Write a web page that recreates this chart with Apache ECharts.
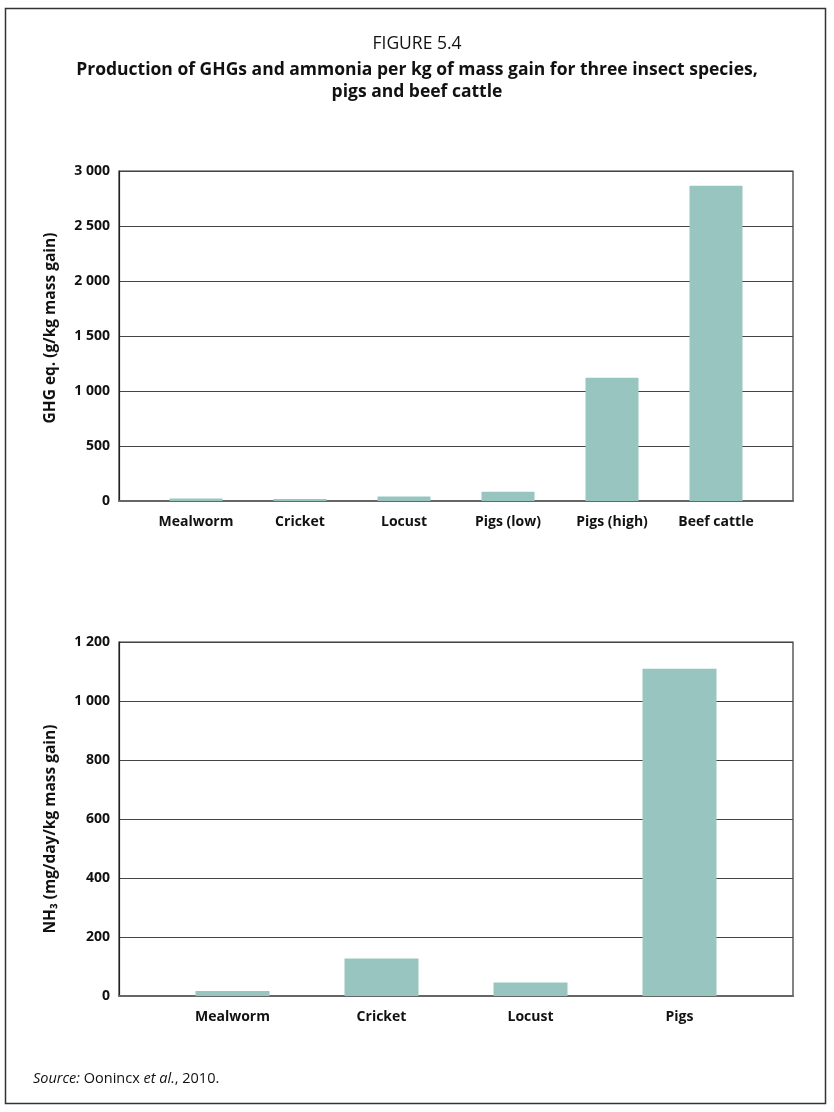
<!DOCTYPE html>
<html>
<head>
<meta charset="utf-8">
<script src="https://cdn.jsdelivr.net/npm/echarts@6.0.0/dist/echarts.min.js"></script>
<style>
  html, body { margin: 0; padding: 0; background: #fff; }
  #chart { width: 834px; height: 1112px; }
</style>
</head>
<body>
<div id="chart"></div>
<script>
// data
const ghgCategories = ["Mealworm", "Cricket", "Locust", "Pigs (low)", "Pigs (high)", "Beef cattle"];
const ghgValues = [22, 18, 40, 85, 1120, 2865];
const nh3Categories = ["Mealworm", "Cricket", "Locust", "Pigs"];
const nh3Values = [17, 127, 46, 1109];

const barColor = "#99c5c0";
const font = "'Open Sans', 'Noto Sans', sans-serif";
const ink = "#111";

// thousands with a space: 3 000
function spaced(v) {
  return String(v).replace(/\B(?=(\d{3})+(?!\d))/g, " ");
}

const chart = echarts.init(document.getElementById("chart"), null, { renderer: "canvas" });

// the framed plot: value axis with labels, split lines and the bottom line
function frameY(gridIndex, max, interval, name, namePad) {
  return {
    type: "value",
    gridIndex: gridIndex,
    min: 0,
    max: max,
    interval: interval,
    name: name,
    nameLocation: "middle",
    nameGap: 60,
    nameTextStyle: {
      fontFamily: font, fontWeight: "bold", fontSize: 15.5, color: ink,
      padding: namePad
    },
    axisLine: { show: true, lineStyle: { color: "#222", width: 1.2 } },
    axisTick: { show: false },
    axisLabel: {
      formatter: spaced,
      fontFamily: font, fontWeight: "bold", fontSize: 14, color: ink, margin: 9
    },
    splitLine: { show: true, lineStyle: { color: "#444", width: 1.2 } }
  };
}
function frameX(gridIndex) {
  return {
    type: "category",
    gridIndex: gridIndex,
    data: [""],
    axisLine: { show: true, lineStyle: { color: "#666", width: 2 } },
    axisTick: { show: false },
    axisLabel: { show: false }
  };
}
// the bar layer: narrower, axes hidden except category labels
function barX(gridIndex, data) {
  return {
    type: "category",
    gridIndex: gridIndex,
    data: data,
    axisLine: { show: false },
    axisTick: { show: false },
    axisLabel: { fontFamily: font, fontWeight: "bold", fontSize: 14, color: ink, margin: 14 }
  };
}
function barY(gridIndex, max) {
  return {
    type: "value",
    gridIndex: gridIndex,
    min: 0,
    max: max,
    show: false,
    splitLine: { show: false }
  };
}

const option = {
  backgroundColor: "#fff",
  animation: false,
  grid: [
    { left: 119, right: 41, top: 171, height: 330, show: true, borderColor: "#333", borderWidth: 1.2 },
    { left: 144, width: 624, top: 171, height: 330 },
    { left: 119, right: 41, top: 642, height: 354, show: true, borderColor: "#333", borderWidth: 1.2 },
    { left: 158, width: 596, top: 642, height: 354 }
  ],
  xAxis: [frameX(0), barX(1, ghgCategories), frameX(2), barX(3, nh3Categories)],
  yAxis: [
    frameY(0, 3000, 500, "GHG eq. (g/kg mass gain)", [0, 0, 0, 16]),
    barY(1, 3000),
    frameY(2, 1200, 200, "NH\u2083 (mg/day/kg mass gain)", [0, 20, 0, 0]),
    barY(3, 1200)
  ],
  series: [
    {
      type: "bar",
      xAxisIndex: 1,
      yAxisIndex: 1,
      data: ghgValues,
      barWidth: 53,
      z: 3,
      itemStyle: { color: barColor }
    },
    {
      type: "bar",
      xAxisIndex: 3,
      yAxisIndex: 3,
      data: nh3Values,
      barWidth: 74,
      z: 3,
      itemStyle: { color: barColor }
    }
  ],
  graphic: [
    {
      type: "rect",
      shape: { x: 5.5, y: 8.5, width: 820, height: 1095 },
      style: { fill: "none", stroke: "#333", lineWidth: 1.5 },
      silent: true
    },
    {
      type: "text",
      x: 417,
      y: 44,
      style: {
        text: "FIGURE 5.4",
        textAlign: "center",
        textVerticalAlign: "middle",
        fontFamily: font, fontSize: 17.5, fill: ink
      }
    },
    {
      type: "text",
      x: 417,
      y: 81,
      style: {
        text: "Production of GHGs and ammonia per kg of mass gain for three insect species,\npigs and beef cattle",
        textAlign: "center",
        textVerticalAlign: "middle",
        fontFamily: font, fontWeight: "bold", fontSize: 17.5, lineHeight: 22, fill: ink
      }
    },
    {
      type: "text",
      left: 33,
      top: 1071,
      style: {
        text: "{i|Source:} Oonincx {i|et al.}, 2010.",
        fontFamily: font,
        fontSize: 14.5,
        fill: ink,
        rich: {
          i: { fontFamily: font, fontStyle: "italic", fontSize: 14.5, fill: ink }
        }
      }
    }
  ]
};

chart.setOption(option);
</script>
</body>
</html>
